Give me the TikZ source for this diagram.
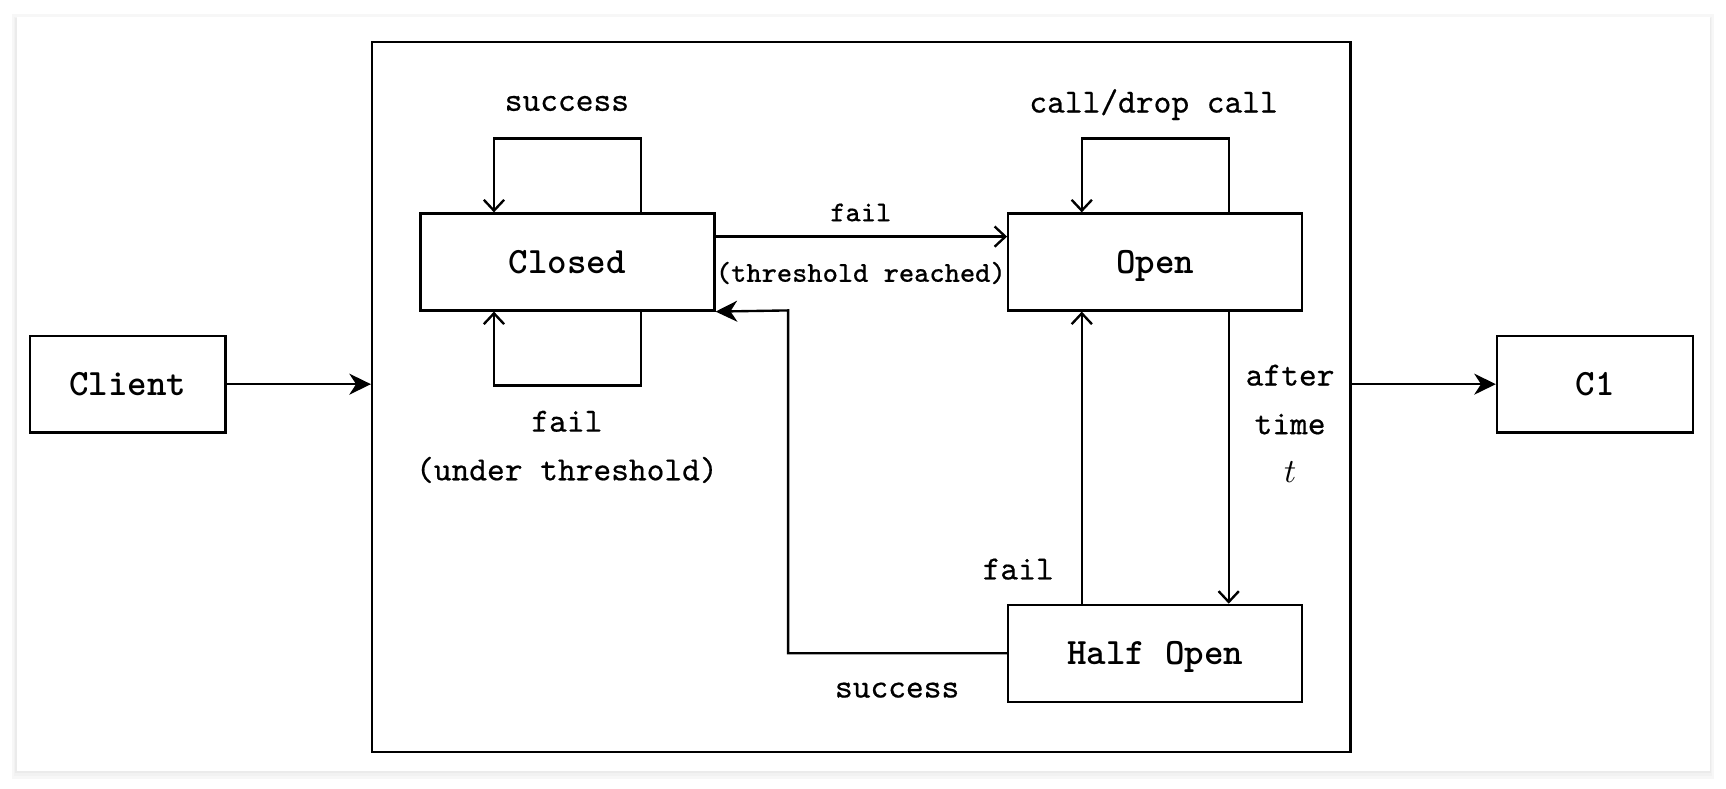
\documentclass[tikz,border=0pt]{standalone}
\usepackage{fontspec}
\newfontfamily\labtt{Latin Modern Mono}[FakeBold=0.5]
\usetikzlibrary{arrows.meta,calc}
\begin{document}
\begin{tikzpicture}[x=0.3257pt,y=-0.3257pt,line width=0.7pt,
  box/.style={draw,inner sep=0pt,minimum width=86.96pt,minimum height=28.66pt,
    text depth=0pt,font=\fontsize{11}{13}\selectfont\ttfamily\bfseries},
  endbox/.style={box,minimum width=57.97pt},
  lab/.style={inner sep=1pt,align=center,font=\fontsize{10}{14.4}\selectfont\labtt},
  smalllab/.style={inner sep=1pt,font=\fontsize{8.5}{10}\selectfont\labtt},
  trans/.style={-{Straight Barb[length=3.2pt,width=6pt]}},
  bigarrow/.style={-{Stealth[length=6.4pt,width=6.2pt,inset=2pt]}}]
\useasboundingbox (0,0) rectangle (1568,716);
% card with soft shadow
\fill[black!3] (11,13) rectangle (1557,708);
\fill[black!5] (13,15) rectangle (1555,705);
\fill[black!8] (14,16) rectangle (1554,702);
\fill[white] (15,15) rectangle (1553,700);
% nodes
\node[draw,minimum width=289.5pt,minimum height=210.1pt,inner sep=0pt] (sys) at (782.5,360.5) {};
\node[endbox] (client) at (116,349) {Client};
\node[endbox] (c1) at (1449,349) {C1};
\node[box] (closed) at (515.5,238) {Closed};
\node[box] (open) at (1049.5,238) {Open};
\node[box] (half) at (1049.5,593.5) {Half Open};
% outer arrows
\draw[bigarrow] (client.east) -- (client.east -| sys.west);
\draw[bigarrow] (c1.west -| sys.east) -- (c1.west);
% closed loops
\draw[trans] ($(closed.north)+(66.75,0)$) -- ++(0,-67) -- ++(-133.5,0) -- ++(0,67);
\node[lab] (lsucc) at (515,94) {success};
\draw[trans] ($(closed.south)+(66.75,0)$) -- ++(0,67) -- ++(-133.5,0) -- ++(0,-67);
\node[lab] (lfailu) at (515,406) {fail\\(under threshold)};
% open loop
\draw[trans] ($(open.north)+(66.75,0)$) -- ++(0,-67) -- ++(-133.5,0) -- ++(0,67);
\node[lab] (lcall) at (1048,95) {call/drop call};
% closed -> open
\coordinate (fa) at ($(closed.north east)+(0,22)$);
\draw[trans] (fa) -- (fa -| open.west);
\node[smalllab] (lfail1) at (782,193) {fail};
\node[smalllab] (lthr) at (782,248) {(threshold reached)};
% open -> half open
\draw[trans] ($(open.south)+(66.75,0)$) -- ($(half.north)+(66.75,0)$);
\node[lab] (lafter) at (1172,385) {after\\time\\$t$};
% half open -> open
\draw[trans] ($(half.north)+(-66.75,0)$) -- ($(open.south)+(-66.75,0)$);
\node[lab] (lfail2) at (925,517) {fail};
% half open -> closed
\coordinate (bend) at (716,282);
\draw[bigarrow] (half.west) -| (bend) -- (closed.south east);
\node[lab] (lsucc2) at (815,627) {success};
\end{tikzpicture}
\end{document}
